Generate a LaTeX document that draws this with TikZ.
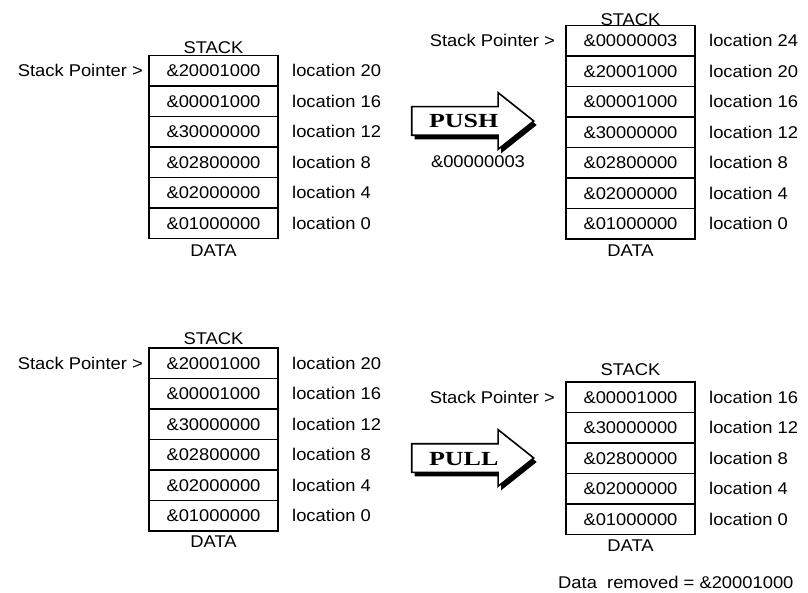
\documentclass[tikz,border=0pt]{standalone}
\usepackage{fontspec}
\setmainfont{Liberation Sans}[FakeStretch=1.08]
\newfontfamily\arrowfont{Liberation Serif}[FakeStretch=1.3]
\usetikzlibrary{positioning,shapes.arrows,shadows}

\begin{document}
\begin{tikzpicture}[x=1pt,y=-1pt,line join=miter,
					every node/.style={font=\fontsize{17}{20}\selectfont},
					cell/.style={draw,line width=1.5pt,minimum width=129pt,minimum height=30.5pt,inner sep=0pt,outer sep=0pt},
					loc/.style={inner sep=0pt},
					caption/.style={inner sep=0pt},
					bigarrow/.style={single arrow,draw,line width=1.6pt,fill=white,anchor=tip,
						single arrow head extend=14pt,single arrow tip angle=77,minimum height=122pt,
						text height=14pt,text depth=0pt,inner ysep=6.5pt,inner xsep=6pt,
						font=\arrowfont\bfseries\fontsize{20}{20}\selectfont,
						drop shadow={shadow xshift=3pt,shadow yshift=-4pt,fill=black,opacity=1}},
				]

  \fill[white] (0,0) rectangle (808,593);
  \useasboundingbox (0,0) rectangle (808,593);

  \node[cell]		(A1) at (213.5,70.75)	{\&20001000};
  \node[cell]		(A2) [below=0pt of A1]	{\&00001000};
  \node[cell]		(A3) [below=0pt of A2]	{\&30000000};
  \node[cell]		(A4) [below=0pt of A3]	{\&02800000};
  \node[cell]		(A5) [below=0pt of A4]	{\&02000000};
  \node[cell]		(A6) [below=0pt of A5]	{\&01000000};
  \node[caption]	(As) [above=2pt of A1]	{STACK};
  \node[caption]	(Ad) [below=6pt of A6]	{DATA};
  \node[caption]	(Ap) [left=6pt of A1]	{Stack Pointer >};
  \node[loc]		(a1) [right=14pt of A1]	{location 20};
  \node[loc]		(a2) [right=14pt of A2]	{location 16};
  \node[loc]		(a3) [right=14pt of A3]	{location 12};
  \node[loc]		(a4) [right=14pt of A4]	{location 8};
  \node[loc]		(a5) [right=14pt of A5]	{location 4};
  \node[loc]		(a6) [right=14pt of A6]	{location 0};

  \node[cell]		(B1) at (630.5,40.75)	{\&00000003};
  \node[cell]		(B2) [below=0pt of B1]	{\&20001000};
  \node[cell]		(B3) [below=0pt of B2]	{\&00001000};
  \node[cell]		(B4) [below=0pt of B3]	{\&30000000};
  \node[cell]		(B5) [below=0pt of B4]	{\&02800000};
  \node[cell]		(B6) [below=0pt of B5]	{\&02000000};
  \node[cell]		(B7) [below=0pt of B6]	{\&01000000};
  \node[caption]	(Bs) [above=0pt of B1]	{STACK};
  \node[caption]	(Bd) [below=6pt of B7]	{DATA};
  \node[caption]	(Bp) [left=11pt of B1]	{Stack Pointer >};
  \node[loc]		(b1) [right=14pt of B1]	{location 24};
  \node[loc]		(b2) [right=14pt of B2]	{location 20};
  \node[loc]		(b3) [right=14pt of B3]	{location 16};
  \node[loc]		(b4) [right=14pt of B4]	{location 12};
  \node[loc]		(b5) [right=14pt of B5]	{location 8};
  \node[loc]		(b6) [right=14pt of B6]	{location 4};
  \node[loc]		(b7) [right=14pt of B7]	{location 0};

  \node[bigarrow]	(push) at (535,121)		{PUSH};
  \node[caption]	(pv) at (478,162)		{\&00000003};

  \node[cell]		(C1) at (213.5,363.25)	{\&20001000};
  \node[cell]		(C2) [below=0pt of C1]	{\&00001000};
  \node[cell]		(C3) [below=0pt of C2]	{\&30000000};
  \node[cell]		(C4) [below=0pt of C3]	{\&02800000};
  \node[cell]		(C5) [below=0pt of C4]	{\&02000000};
  \node[cell]		(C6) [below=0pt of C5]	{\&01000000};
  \node[caption]	(Cs) [above=3pt of C1]	{STACK};
  \node[caption]	(Cd) [below=5pt of C6]	{DATA};
  \node[caption]	(Cp) [left=6pt of C1]	{Stack Pointer >};
  \node[loc]		(c1) [right=14pt of C1]	{location 20};
  \node[loc]		(c2) [right=14pt of C2]	{location 16};
  \node[loc]		(c3) [right=14pt of C3]	{location 12};
  \node[loc]		(c4) [right=14pt of C4]	{location 8};
  \node[loc]		(c5) [right=14pt of C5]	{location 4};
  \node[loc]		(c6) [right=14pt of C6]	{location 0};

  \node[cell]		(D1) at (630.5,397.25)	{\&00001000};
  \node[cell]		(D2) [below=0pt of D1]	{\&30000000};
  \node[cell]		(D3) [below=0pt of D2]	{\&02800000};
  \node[cell]		(D4) [below=0pt of D3]	{\&02000000};
  \node[cell]		(D5) [below=0pt of D4]	{\&01000000};
  \node[caption]	(Ds) [above=6pt of D1]	{STACK};
  \node[caption]	(Dd) [below=5pt of D5]	{DATA};
  \node[caption]	(Dp) [left=11pt of D1]	{Stack Pointer >};
  \node[loc]		(d1) [right=14pt of D1]	{location 16};
  \node[loc]		(d2) [right=14pt of D2]	{location 12};
  \node[loc]		(d3) [right=14pt of D3]	{location 8};
  \node[loc]		(d4) [right=14pt of D4]	{location 4};
  \node[loc]		(d5) [right=14pt of D5]	{location 0};

  \node[bigarrow]	(pull) at (535,458)		{PULL};
  \node[caption,anchor=west]	(rm) at (558,582)	{Data\ \ removed = \&20001000};
\end{tikzpicture}
\end{document}
